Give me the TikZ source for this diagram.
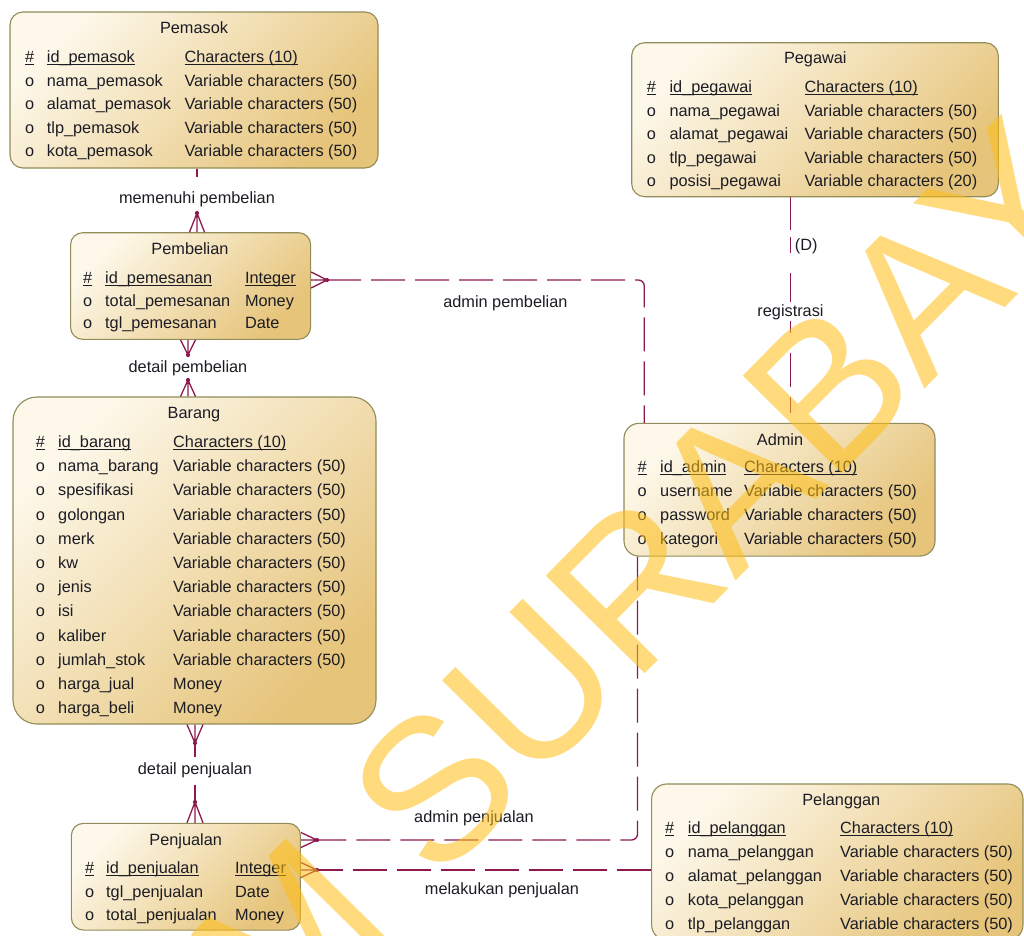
\documentclass[tikz,border=0pt]{standalone}
\usepackage{fontspec}
\setmainfont{Liberation Sans}
\usetikzlibrary{calc}
\definecolor{lnc}{RGB}{140,26,80}
\definecolor{bord}{RGB}{145,140,88}
\definecolor{gl}{RGB}{253,248,234}
\definecolor{gd}{RGB}{230,196,122}
\definecolor{txc}{RGB}{28,28,36}
\definecolor{wmc}{RGB}{255,190,20}
\newcommand\ul[1]{\setbox0\hbox{#1}\rlap{\rule[-2.6pt]{\wd0}{0.9pt}}\box0}
\newcommand\cA{0}\newcommand\cB{0}\newcommand\cC{0}
\newcommand\erow[6]{%
  \node[txt] (#1-m#2) at (\cA,#3) {#4};
  \node[txt] (#1-n#2) at (\cB,#3) {#5};
  \node[txt] (#1-t#2) at (\cC,#3) {#6};}
\newcommand\crow[4]{%
  \draw[conn] (#1) -- (#2) (#1) -- ($(#2)+(#3,#4)$) (#1) -- ($(#2)-(#3,#4)$);
  \fill[lnc] (#1) circle[radius=2.1pt];}
\tikzset{
  entity/.style={draw=bord, line width=1.1pt, rounded corners=#1, top color=gl, bottom color=gd, shading angle=45, inner sep=0pt, shape=rectangle},
  entity/.default=13pt,
  txt/.style={anchor=base west, inner sep=0pt, text=txc, font=\fontsize{16.3}{19}\selectfont},
  ttl/.style={anchor=base, inner sep=0pt, text=txc, font=\fontsize{16.3}{19}\selectfont},
  lbl/.style={anchor=base, inner sep=0pt, text=txc, font=\fontsize{16.3}{19}\selectfont},
  conn/.style={draw=lnc, line width=1.3pt},
  dsh/.style={dash pattern=on 34pt off 10pt},
}
\begin{document}
\begin{tikzpicture}[x=1pt,y=-1pt]
\clip (0,0) rectangle (1024,935);
\fill[white] (0,0) rectangle (1024,935);

% ---------- entities ----------
\node[entity, minimum width=368pt, minimum height=156pt] (pemasok) at (194,90) {};
\node[ttl] (pemasok-title) at (194,33.3) {Pemasok};
\renewcommand\cA{25}\renewcommand\cB{46.7}\renewcommand\cC{184.3}
\erow{pm}{1}{62.5}{\ul{\#}}{\ul{id\_pemasok}}{\ul{Characters (10)}}
\erow{pm}{2}{86}{o}{nama\_pemasok}{Variable characters (50)}
\erow{pm}{3}{109.5}{o}{alamat\_pemasok}{Variable characters (50)}
\erow{pm}{4}{133}{o}{tlp\_pemasok}{Variable characters (50)}
\erow{pm}{5}{156.5}{o}{kota\_pemasok}{Variable characters (50)}

\node[entity=12pt, minimum width=240pt, minimum height=106.6pt] (pembelian) at (190.6,286) {};
\node[ttl] (pembelian-title) at (190,254) {Pembelian};
\renewcommand\cA{83}\renewcommand\cB{105}\renewcommand\cC{244.8}
\erow{pb}{1}{283}{\ul{\#}}{\ul{id\_pemesanan}}{\ul{Integer}}
\erow{pb}{2}{306}{o}{total\_pemesanan}{Money}
\erow{pb}{3}{328.5}{o}{tgl\_pemesanan}{Date}

\node[entity=24pt, minimum width=363pt, minimum height=327pt] (barang) at (194.5,560.5) {};
\node[ttl] (barang-title) at (194,418.5) {Barang};
\renewcommand\cA{35.7}\renewcommand\cB{58}\renewcommand\cC{173}
\erow{br}{1}{447.5}{\ul{\#}}{\ul{id\_barang}}{\ul{Characters (10)}}
\erow{br}{2}{471.7}{o}{nama\_barang}{Variable characters (50)}
\erow{br}{3}{495.9}{o}{spesifikasi}{Variable characters (50)}
\erow{br}{4}{520.1}{o}{golongan}{Variable characters (50)}
\erow{br}{5}{544.3}{o}{merk}{Variable characters (50)}
\erow{br}{6}{568.5}{o}{kw}{Variable characters (50)}
\erow{br}{7}{592.7}{o}{jenis}{Variable characters (50)}
\erow{br}{8}{616.9}{o}{isi}{Variable characters (50)}
\erow{br}{9}{641.1}{o}{kaliber}{Variable characters (50)}
\erow{br}{10}{665.3}{o}{jumlah\_stok}{Variable characters (50)}
\erow{br}{11}{689.5}{o}{harga\_jual}{Money}
\erow{br}{12}{713.7}{o}{harga\_beli}{Money}

\node[entity=12pt, minimum width=229pt, minimum height=106.7pt] (penjualan) at (185.9,876.7) {};
\node[ttl] (penjualan-title) at (185.7,845) {Penjualan};
\renewcommand\cA{84.8}\renewcommand\cB{106}\renewcommand\cC{235}
\erow{pj}{1}{873.5}{\ul{\#}}{\ul{id\_penjualan}}{\ul{Integer}}
\erow{pj}{2}{897}{o}{tgl\_penjualan}{Date}
\erow{pj}{3}{920.5}{o}{total\_penjualan}{Money}

\node[entity, minimum width=366.6pt, minimum height=154pt] (pegawai) at (815,119.7) {};
\node[ttl] (pegawai-title) at (815.3,63.3) {Pegawai};
\renewcommand\cA{646.7}\renewcommand\cB{669.3}\renewcommand\cC{804.3}
\erow{pg}{1}{92.5}{\ul{\#}}{\ul{id\_pegawai}}{\ul{Characters (10)}}
\erow{pg}{2}{116}{o}{nama\_pegawai}{Variable characters (50)}
\erow{pg}{3}{139.5}{o}{alamat\_pegawai}{Variable characters (50)}
\erow{pg}{4}{163}{o}{tlp\_pegawai}{Variable characters (50)}
\erow{pg}{5}{186.5}{o}{posisi\_pegawai}{Variable characters (20)}

\node[entity=15pt, minimum width=311pt, minimum height=132.7pt] (admin) at (779.5,489.7) {};
\node[ttl] (admin-title) at (780,445) {Admin};
\renewcommand\cA{637.3}\renewcommand\cB{660}\renewcommand\cC{744}
\erow{ad}{1}{472.5}{\ul{\#}}{\ul{id\_admin}}{\ul{Characters (10)}}
\erow{ad}{2}{496.5}{o}{username}{Variable characters (50)}
\erow{ad}{3}{520.5}{o}{password}{Variable characters (50)}
\erow{ad}{4}{544.5}{o}{kategori}{Variable characters (50)}

\node[entity=15pt, minimum width=371.3pt, minimum height=156pt] (pelanggan) at (837.3,862) {};
\node[ttl] (pelanggan-title) at (841.3,805) {Pelanggan};
\renewcommand\cA{665}\renewcommand\cB{687.7}\renewcommand\cC{840}
\erow{pl}{1}{833.3}{\ul{\#}}{\ul{id\_pelanggan}}{\ul{Characters (10)}}
\erow{pl}{2}{857.3}{o}{nama\_pelanggan}{Variable characters (50)}
\erow{pl}{3}{881.3}{o}{alamat\_pelanggan}{Variable characters (50)}
\erow{pl}{4}{905.3}{o}{kota\_pelanggan}{Variable characters (50)}
\erow{pl}{5}{929.3}{o}{tlp\_pelanggan}{Variable characters (50)}

% ---------- relationship labels ----------
\node[lbl] (l-memenuhi) at (197,203) {memenuhi pembelian};
\node[lbl] (l-detpemb) at (188,372.5) {detail pembelian};
\node[lbl] (l-adpemb) at (505.4,307.5) {admin pembelian};
\node[lbl] (l-D) at (806.3,250.5) {(D)};
\node[lbl] (l-detpenj) at (195,774) {detail penjualan};
\node[lbl] (l-adpenj) at (474,822.5) {admin penjualan};
\node[lbl] (l-melakukan) at (502,894) {melakukan penjualan};

% ---------- connectors ----------
% memenuhi pembelian
\coordinate (c1) at (197,177);
\coordinate (j1) at (197,213);
\coordinate (e1) at (pembelian.north -| j1);
\draw[conn] (pemasok.south -| c1) -- (c1);
\crow{j1}{e1}{7.5}{0}

% detail pembelian
\coordinate (j2a) at (188,355);
\coordinate (e2a) at (pembelian.south -| j2a);
\crow{j2a}{e2a}{7.5}{0}
\coordinate (j2b) at (188,380);
\coordinate (e2b) at (barang.north -| j2b);
\crow{j2b}{e2b}{7.5}{0}

% detail penjualan
\coordinate (j3a) at (195,743);
\coordinate (e3a) at (barang.south -| j3a);
\coordinate (c3a) at (195,757);
\crow{j3a}{e3a}{8}{0}
\draw[conn] (j3a) -- (c3a);
\coordinate (j3b) at (195,802);
\coordinate (e3b) at (penjualan.north -| j3b);
\coordinate (c3b) at (195,785);
\crow{j3b}{e3b}{8}{0}
\draw[conn] (c3b) -- (j3b);

% admin pembelian
\coordinate (j4) at (327,280);
\coordinate (e4) at (pembelian.east |- j4);
\coordinate (c4) at (644.3,0);
\crow{j4}{e4}{0}{8}
\draw[conn, dsh, rounded corners=6pt] (j4) -| (admin.north -| c4);

% registrasi
\coordinate (c5) at (790.7,230);
\coordinate (c5b) at (790.7,237);
\draw[conn] (pegawai.south -| c5) -- (c5);
\draw[conn, dash pattern=on 16pt off 20pt on 34pt off 10pt] (c5b) -- (admin.north -| c5b);
\node[lbl, fill=white, inner ysep=2pt] (l-registrasi) at (790.5,316) {registrasi};

% admin penjualan
\coordinate (j6) at (317,840);
\coordinate (e6) at (penjualan.east |- j6);
\coordinate (c6) at (637.5,0);
\crow{j6}{e6}{0}{7.5}
\draw[conn, dsh, rounded corners=6pt] (admin.south -| c6) |- (j6);

% melakukan penjualan
\coordinate (j7) at (317,870);
\coordinate (e7) at (penjualan.east |- j7);
\crow{j7}{e7}{0}{7.5}
\draw[conn, dsh] (pelanggan.west |- j7) -- (j7);

% ---------- watermark ----------
\node[rotate=45.4, text=wmc, opacity=0.55, inner sep=0pt, font=\fontsize{202}{202}\selectfont] (wm) at (471,751) {STIKOM SURABAYA};
\end{tikzpicture}
\end{document}
